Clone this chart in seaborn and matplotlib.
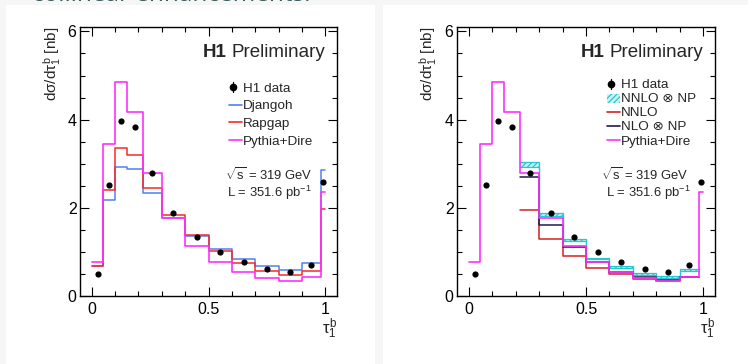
import numpy as np
import pandas as pd
import seaborn as sns
import matplotlib
matplotlib.use("Agg")
import matplotlib.pyplot as plt
from matplotlib.patches import Rectangle
from matplotlib.lines import Line2D
from matplotlib.ticker import MultipleLocator, FixedLocator

# ---- data: tau_1^b cross sections [nb] ----
bin_edges = [0.0, 0.05, 0.1, 0.15, 0.22, 0.3, 0.4, 0.5, 0.6, 0.7, 0.8, 0.9, 0.98, 1.0]
data_x = [0.025, 0.075, 0.125, 0.185, 0.26, 0.35, 0.45, 0.55, 0.65, 0.75, 0.85, 0.94, 0.99]
h1_data = [0.51, 2.51, 3.96, 3.83, 2.78, 1.89, 1.33, 0.99, 0.76, 0.61, 0.55, 0.70, 2.58]

djangoh = [0.69, 2.17, 2.93, 2.88, 2.33, 1.77, 1.35, 1.06, 0.85, 0.67, 0.59, 0.74, 2.86]
rapgap = [0.67, 2.40, 3.36, 3.20, 2.45, 1.84, 1.39, 1.01, 0.74, 0.56, 0.47, 0.57, 1.97]
pythia_dire = [0.76, 3.45, 4.85, 4.17, 2.80, 1.76, 1.14, 0.76, 0.55, 0.40, 0.34, 0.44, 2.36]

# fixed-order predictions exist for 0.22 < tau < 0.98
fo_edges = [0.22, 0.3, 0.4, 0.5, 0.6, 0.7, 0.8, 0.9, 0.98]
nnlo_np_lo = [2.92, 1.82, 1.24, 0.83, 0.64, 0.48, 0.41, 0.56]
nnlo_np_hi = [3.05, 1.89, 1.29, 0.86, 0.68, 0.52, 0.45, 0.61]
nnlo = [1.95, 1.29, 0.90, 0.63, 0.49, 0.38, 0.33, 0.42]
nlo_np = [2.69, 1.62, 1.10, 0.76, 0.55, 0.43, 0.37, 0.44]

x_ticks = [0, 0.5, 1]
x_ticklabels = ["0", "0.5", "1"]
y_ticks = [0, 2, 4, 6]
y_ticklabels = ["0", "2", "4", "6"]

# ---- style ----
sns.set_theme(style="ticks")
plt.rcParams["font.family"] = ["Liberation Sans", "DejaVu Sans"]
plt.rcParams["mathtext.fontset"] = "custom"
plt.rcParams["mathtext.rm"] = "Liberation Sans"
plt.rcParams["mathtext.it"] = "Liberation Sans"
plt.rcParams["mathtext.bf"] = "Liberation Sans:bold"
plt.rcParams["hatch.linewidth"] = 0.9

C_DJANGOH = "#4f80f5"
C_RAPGAP = "#f52a2a"
C_PYTHIA = "#ff30ff"
C_NNLO = "#d42020"
C_NLO = "#1c1c50"
C_BAND = "#28c8d2"

W, H = 748, 364
DPI = 100
fig = plt.figure(figsize=(W / DPI, H / DPI), dpi=DPI, facecolor="#f6f6f6")

# white card behind each panel
for x0, x1 in [(6, 375), (383, 748)]:
    fig.patches.append(Rectangle((x0 / W, 0), (x1 - x0) / W, 1 - 5 / H,
                                 transform=fig.transFigure, facecolor="white",
                                 edgecolor="none", zorder=-5))

# heading text running off the top edge
fig.text(32 / W, 1 - 1.0 / H, "collinear enhancements.", fontsize=17.5,
         color="#3c5a5c", family=["Open Sans", "DejaVu Sans"], va="baseline",
         zorder=-4)

LEFT_BOX = (80, 337, 27, 296)
RIGHT_BOX = (457, 715, 27, 296)


def make_axes(box):
    x0, x1, yt, yb = box
    ax = fig.add_axes([x0 / W, 1 - yb / H, (x1 - x0) / W, (yb - yt) / H])
    ax.set_facecolor("white")
    return ax


def af(box, px, py):
    x0, x1, yt, yb = box
    return (px - x0) / (x1 - x0), (yb - py) / (yb - yt)


def steps(ax, edges, vals, color, lw=1.1, z=3, alpha=1.0):
    df = pd.DataFrame({"x": edges, "y": list(vals) + [vals[-1]]})
    sns.lineplot(data=df, x="x", y="y", ax=ax, color=color, lw=lw,
                 drawstyle="steps-post", estimator=None, sort=False,
                 zorder=z, alpha=alpha)


def style_axes(ax, box):
    ax.set_xlim(-0.05, 1.05)
    ax.set_ylim(0, 6.1)
    ax.xaxis.set_major_locator(FixedLocator(x_ticks))
    ax.set_xticklabels(x_ticklabels)
    ax.xaxis.set_minor_locator(MultipleLocator(0.1))
    ax.yaxis.set_major_locator(FixedLocator(y_ticks))
    ax.set_yticklabels(y_ticklabels)
    ax.yaxis.set_minor_locator(MultipleLocator(0.5))
    ax.tick_params(which="both", direction="in", top=True, right=True,
                   width=0.8, colors="black", labelsize=11.5)
    ax.tick_params(which="major", length=6.5)
    ax.tick_params(which="minor", length=3.5)
    ax.tick_params(axis="x", pad=4)
    ax.tick_params(axis="y", pad=2.5)
    for s in ax.spines.values():
        s.set_linewidth(1.0)
        s.set_color("black")
    ax.set_ylabel(r"d$\sigma$/d$\tau_1^b$ [nb]", fontsize=11, loc="top")
    ax.yaxis.set_label_coords(-0.068, 1.0)
    ax.set_xlabel(r"$\tau_1^b$", fontsize=12, loc="right")
    ax.xaxis.set_label_coords(1.0, -0.075)
    # experiment tag
    hx, hy = af(box, box[1] - 110, 57)
    ax.text(hx, hy, "H1", fontsize=13.5, fontweight="bold",
            transform=ax.transAxes, ha="right", va="baseline")
    px, _ = af(box, box[1] - 105.5, 57)
    ax.text(px, hy, "Preliminary", fontsize=13.5,
            transform=ax.transAxes, ha="left", va="baseline")


def legend_entries(ax, box, text_px, baselines, entries):
    for (kind, color, label), base in zip(entries, baselines):
        tx, ty = af(box, text_px, base)
        ax.text(tx, ty, label, fontsize=9.7, transform=ax.transAxes,
                ha="left", va="baseline")
        _, cy = af(box, text_px, base - 4.5)
        if kind == "data":
            mx, _ = af(box, text_px - 10, base)
            _, y0 = af(box, 0, base - 4.5 - 5)
            _, y1 = af(box, 0, base - 4.5 + 5)
            ax.add_line(Line2D([mx, mx], [y0, y1], color="black", lw=0.9,
                               transform=ax.transAxes))
            ax.add_line(Line2D([mx], [cy], color="black", marker="o", ms=4.5,
                               lw=0, transform=ax.transAxes))
        elif kind == "line":
            xa, _ = af(box, text_px - 14, base)
            xb, _ = af(box, text_px - 1, base)
            ax.add_line(Line2D([xa, xb], [cy, cy], color=color, lw=1.2,
                               transform=ax.transAxes))
        elif kind == "band":
            xa, ya = af(box, text_px - 14, base)
            xb, yb = af(box, text_px - 1, base - 9)
            ax.add_patch(Rectangle((xa, ya), xb - xa, yb - ya,
                                   transform=ax.transAxes, facecolor="#c8f2f4",
                                   edgecolor=C_BAND, hatch="//////", lw=0))


def run_info(ax, box, x1, x2):
    tx, ty = af(box, x1, 180)
    ax.text(tx, ty, r"$\sqrt{s}$ = 319 GeV", fontsize=9.4,
            transform=ax.transAxes, va="baseline")
    tx, ty = af(box, x2, 197)
    ax.text(tx, ty, r"L = 351.6 pb$^{-1}$", fontsize=9.4,
            transform=ax.transAxes, va="baseline")


# ---- left panel: MC generators ----
axL = make_axes(LEFT_BOX)
steps(axL, bin_edges, djangoh, C_DJANGOH, z=3)
steps(axL, bin_edges, rapgap, C_RAPGAP, z=4)
steps(axL, bin_edges, pythia_dire, C_PYTHIA, z=5, lw=1.2)
sns.scatterplot(x=data_x, y=h1_data, ax=axL, color="black", s=20,
                linewidth=0, zorder=10)
style_axes(axL, LEFT_BOX)
legend_entries(axL, LEFT_BOX, 243, [91.5, 109.2, 126.9, 144.6], [
    ("data", "black", "H1 data"),
    ("line", C_DJANGOH, "Djangoh"),
    ("line", C_RAPGAP, "Rapgap"),
    ("line", C_PYTHIA, "Pythia+Dire"),
])
run_info(axL, LEFT_BOX, 225, 227)

# ---- right panel: fixed-order calculations ----
axR = make_axes(RIGHT_BOX)
lo_s = nnlo_np_lo + [nnlo_np_lo[-1]]
hi_s = nnlo_np_hi + [nnlo_np_hi[-1]]
axR.fill_between(fo_edges, lo_s, hi_s, step="post", facecolor="#c8f2f4",
                 edgecolor=C_BAND, hatch="//////", lw=0, zorder=2)
steps(axR, fo_edges, nnlo_np_hi, C_BAND, lw=0.9, z=2)
steps(axR, fo_edges, nnlo_np_lo, C_BAND, lw=0.9, z=2)
steps(axR, fo_edges, nnlo, C_NNLO, z=3)
steps(axR, fo_edges, nlo_np, C_NLO, z=4)
steps(axR, bin_edges, pythia_dire, C_PYTHIA, z=5, lw=1.2)
sns.scatterplot(x=data_x, y=h1_data, ax=axR, color="black", s=20,
                linewidth=0, zorder=10)
style_axes(axR, RIGHT_BOX)
legend_entries(axR, RIGHT_BOX, 621, [88.3, 102.5, 116.5, 130.5, 144.5], [
    ("data", "black", "H1 data"),
    ("band", C_BAND, "NNLO ⊗ NP"),
    ("line", C_NNLO, "NNLO"),
    ("line", C_NLO, "NLO ⊗ NP"),
    ("line", C_PYTHIA, "Pythia+Dire"),
])
run_info(axR, RIGHT_BOX, 601, 606)

fig.savefig("out.png", dpi=DPI, facecolor=fig.get_facecolor())
